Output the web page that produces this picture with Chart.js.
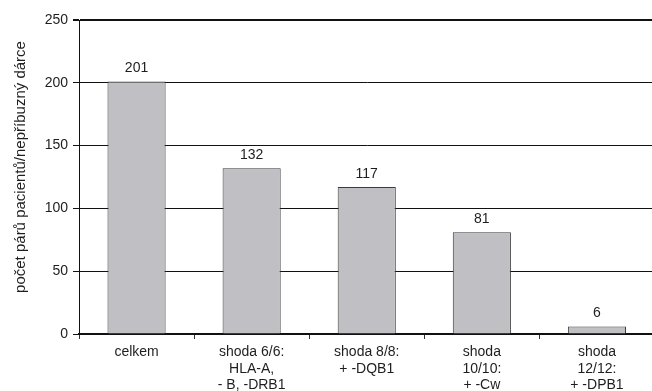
<!DOCTYPE html>
<html>
<head>
<meta charset="utf-8">
<script src="https://cdn.jsdelivr.net/npm/chart.js@4/dist/chart.umd.min.js"></script>
<style>
  html, body { margin: 0; padding: 0; background: #fff; overflow: hidden; }
  #wrap { position: relative; width: 660px; height: 391px; }
</style>
</head>
<body>
<div id="wrap"><canvas id="c"></canvas></div>
<script>
// Number of patient / unrelated donor pairs by HLA match level
const categories = [
  ["celkem"],
  ["shoda 6/6:", "HLA-A,", "- B, -DRB1"],
  ["shoda 8/8:", "+ -DQB1"],
  ["shoda", "10/10:", "+ -Cw"],
  ["shoda", "12/12:", "+ -DPB1"]
];
const pairCounts = [201, 132, 117, 81, 6];
const yTicks = [0, 50, 100, 150, 200, 250];
const yTitle = "počet párů pacientů/nepříbuzný dárce";

const FONT = "'Liberation Sans', Arial, sans-serif";
const INK = "#1e1e1e";

// value printed above each bar
const valueLabels = {
  id: "valueLabels",
  afterDatasetsDraw(chart) {
    const ctx = chart.ctx;
    const meta = chart.getDatasetMeta(0);
    ctx.save();
    ctx.font = "14px " + FONT;
    ctx.fillStyle = INK;
    ctx.textAlign = "center";
    ctx.textBaseline = "middle";
    meta.data.forEach((bar, i) => {
      ctx.fillText(String(pairCounts[i]), bar.x, bar.y - 13);
    });
    ctx.restore();
  }
};

// rotated y-axis caption
const axisCaption = {
  id: "axisCaption",
  afterDraw(chart) {
    const ctx = chart.ctx;
    ctx.save();
    ctx.translate(21, 167);
    ctx.rotate(-Math.PI / 2);
    ctx.font = "15px " + FONT;
    ctx.fillStyle = INK;
    ctx.textAlign = "center";
    ctx.textBaseline = "middle";
    ctx.fillText(yTitle, 0, 0);
    ctx.restore();
  }
};

new Chart(document.getElementById("c"), {
  type: "bar",
  data: {
    labels: categories,
    datasets: [{
      data: pairCounts,
      backgroundColor: "#c0c0c4",
      borderColor: "#3a3a3a",
      borderWidth: 1,
      borderSkipped: "bottom",
      categoryPercentage: 1,
      barPercentage: 0.505
    }]
  },
  options: {
    responsive: true,
    maintainAspectRatio: false,
    animation: false,
    devicePixelRatio: 1,
    layout: { padding: { top: 20, right: 5.5, left: 0, bottom: 0 } },
    plugins: { legend: { display: false }, tooltip: { enabled: false } },
    scales: {
      x: {
        afterFit(scale) { scale.height = 57; },
        grid: {
          display: true,
          offset: true,
          drawOnChartArea: false,
          drawTicks: true,
          tickLength: 5,
          color: "#333",
          lineWidth: 1
        },
        border: { display: true, color: "#111", width: 2 },
        ticks: {
          color: INK,
          font: { family: FONT, size: 14, lineHeight: 1.18 },
          padding: 5,
          maxRotation: 0,
          autoSkip: false
        }
      },
      y: {
        min: 0,
        max: 250,
        afterFit(scale) { scale.width = 79; },
        afterBuildTicks(scale) { scale.ticks = yTicks.map(v => ({ value: v })); },
        grid: {
          color: "#111",
          lineWidth: ctx => (ctx.tick && ctx.tick.value === 250 ? 2 : 1),
          drawTicks: true,
          tickLength: 6
        },
        border: { display: true, color: "#111", width: 1 },
        ticks: {
          color: INK,
          font: { family: FONT, size: 14 },
          padding: 5
        }
      }
    }
  },
  plugins: [valueLabels, axisCaption]
});
</script>
</body>
</html>
